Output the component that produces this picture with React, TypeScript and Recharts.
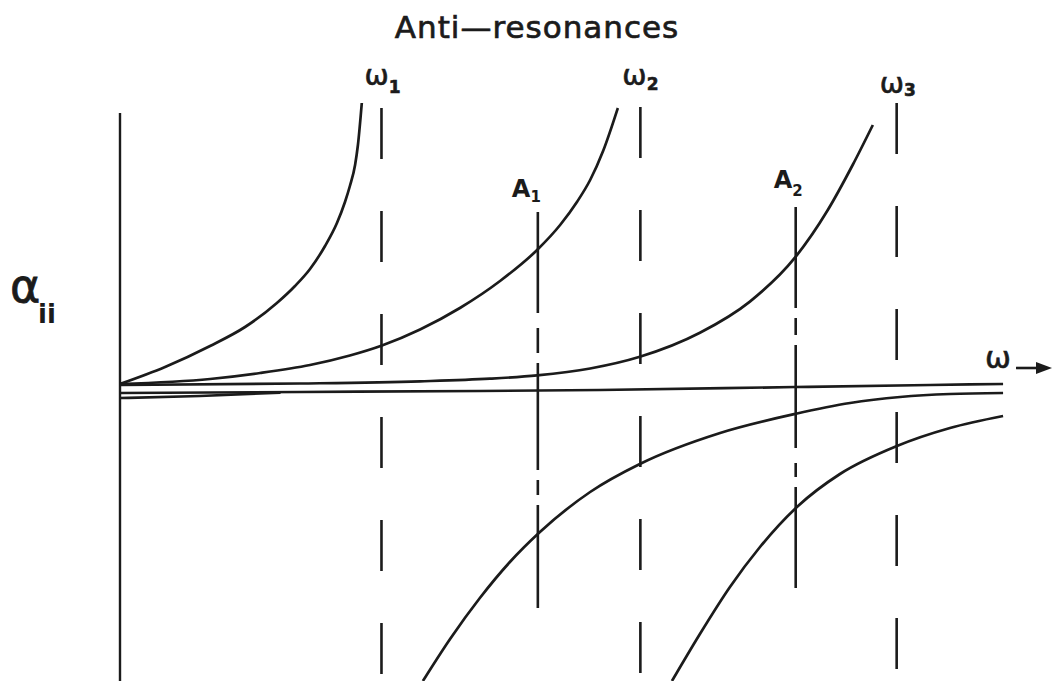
import { LineChart, Line, XAxis, YAxis, ReferenceLine } from "recharts";

type Pt = [number, number];

// ω in units of the first natural frequency, α_ii receptance (arbitrary units)
const mode1Below: Pt[] = [
  [0, 0.03], [0.174, 0.2], [0.348, 0.41], [0.483, 0.6], [0.606, 0.84],
  [0.676, 1.01], [0.734, 1.18], [0.792, 1.41], [0.838, 1.64], [0.869, 1.85],
  [0.888, 2.01], [0.908, 2.22], [0.919, 2.42], [0.934, 2.84],
];
const mode2Below: Pt[] = [
  [0, 0.03], [0.348, 0.08], [0.541, 0.14], [0.734, 0.22], [0.888, 0.315],
  [1.012, 0.415], [1.159, 0.575], [1.313, 0.79], [1.468, 1.06], [1.611, 1.37],
  [1.7, 1.62], [1.765, 1.85], [1.816, 2.07], [1.866, 2.36], [1.923, 2.79],
];
const mode3Below: Pt[] = [
  [0, 0.02], [0.695, 0.035], [1.159, 0.057], [1.429, 0.083], [1.611, 0.116],
  [1.816, 0.185], [2.008, 0.302], [2.24, 0.542], [2.433, 0.854], [2.607, 1.293],
  [2.731, 1.757], [2.831, 2.225], [2.908, 2.62],
];
const mode1Above: Pt[] = [
  [1.17, -2.94], [1.275, -2.52], [1.39, -2.11], [1.506, -1.75], [1.622, -1.45],
  [1.816, -1.05], [2.008, -0.77], [2.318, -0.46], [2.607, -0.27], [2.82, -0.16],
  [3.013, -0.1], [3.206, -0.07], [3.411, -0.06],
];
const mode2Above: Pt[] = [
  [2.132, -2.94], [2.24, -2.47], [2.356, -2.0], [2.472, -1.6], [2.619, -1.19],
  [2.781, -0.87], [3.001, -0.59], [3.206, -0.41], [3.411, -0.29],
];
const zeroLine: Pt[] = [
  [0, -0.06], [0.695, -0.05], [1.39, -0.04], [1.854, -0.03], [2.607, 0],
  [3.129, 0.02], [3.411, 0.03],
];
const zeroLineLow: Pt[] = [[0, -0.11], [0.309, -0.09], [0.62, -0.056]];

const resonances = [1.01, 2.01, 3.0];
const resonanceTop = [2.79, 2.8, 2.84];
const resonanceNames = ["1", "2", "3"];

const antiResonances = [1.614, 2.61];
const antiTop = [1.75, 1.8];
const antiBottom = [-2.21, -2.01];
const antiNames = ["1", "2"];

const axisTop = 2.74;

const W_DOMAIN: [number, number] = [0, 3.6];
const A_DOMAIN: [number, number] = [-2.94, 3];

const WIDTH = 1052;
const HEIGHT = 681;
const MARGIN = { top: 87, right: 0, bottom: 0, left: 120 };

const INK = "#1b1b1b";
const FONT = "'DejaVu Sans', sans-serif";

// label placement next to the top of each vertical line
const omegaOffsets = [
  { dx: -17, dy: -23, sub: 8 },
  { dx: -18, dy: -22, sub: 5 },
  { dx: -17, dy: -10, sub: 3 },
];
const antiOffsets = [
  { dx: -26, dy: -15, sub: 5 },
  { dx: -22, dy: -19, sub: 8 },
];
const antiDashes = ["101 15 25 10 107 10 15 10 103", "101 10 17 10 103 15 14 10 101"];

const rows = (pts: Pt[]) => pts.map(([w, a]) => ({ w, a }));

// same linear mapping the chart uses, for the overlay text
const plotW = WIDTH - MARGIN.left - MARGIN.right;
const plotH = HEIGHT - MARGIN.top - MARGIN.bottom;
const xPx = (w: number) => MARGIN.left + ((w - W_DOMAIN[0]) / (W_DOMAIN[1] - W_DOMAIN[0])) * plotW;
const yPx = (a: number) => MARGIN.top + ((A_DOMAIN[1] - a) / (A_DOMAIN[1] - A_DOMAIN[0])) * plotH;

const curves = [mode1Below, mode2Below, mode3Below, mode1Above, mode2Above, zeroLine, zeroLineLow];

export default function App() {
  return (
    <div style={{ position: "relative", width: WIDTH, height: HEIGHT, background: "#fff" }}>
      <style>{"body{margin:0;background:#fff}"}</style>
      <LineChart width={WIDTH} height={HEIGHT} margin={MARGIN}>
        <XAxis type="number" dataKey="w" domain={W_DOMAIN} allowDataOverflow hide />
        <YAxis type="number" dataKey="a" domain={A_DOMAIN} allowDataOverflow hide />

        <ReferenceLine
          segment={[{ x: 0, y: axisTop }, { x: 0, y: A_DOMAIN[0] }]}
          stroke={INK}
          strokeWidth={2.4}
          ifOverflow="visible"
        />

        {resonances.map((w, i) => (
          <ReferenceLine
            key={`res-${i}`}
            segment={[{ x: w, y: resonanceTop[i] }, { x: w, y: A_DOMAIN[0] }]}
            stroke={INK}
            strokeWidth={2.6}
            strokeDasharray="51 52"
            ifOverflow="visible"
          />
        ))}

        {antiResonances.map((w, i) => (
          <ReferenceLine
            key={`anti-${i}`}
            segment={[{ x: w, y: antiTop[i] }, { x: w, y: antiBottom[i] }]}
            stroke={INK}
            strokeWidth={2.6}
            strokeDasharray={antiDashes[i]}
            ifOverflow="visible"
          />
        ))}

        {curves.map((pts, i) => (
          <Line
            key={`curve-${i}`}
            data={rows(pts)}
            dataKey="a"
            type="monotone"
            stroke={INK}
            strokeWidth={2.7}
            dot={false}
            activeDot={false}
            isAnimationActive={false}
          />
        ))}
      </LineChart>

      <svg
        width={WIDTH}
        height={HEIGHT}
        style={{ position: "absolute", left: 0, top: 0, pointerEvents: "none" }}
      >
        <text
          x={537}
          y={38}
          textAnchor="middle"
          fill={INK}
          stroke={INK}
          strokeWidth={0.7}
          fontFamily={FONT}
          fontSize={31}
          letterSpacing={1}
        >
          Anti—resonances
        </text>

        {resonances.map((w, i) => {
          const o = omegaOffsets[i];
          return (
            <text
              key={`wl-${i}`}
              x={xPx(w) + o.dx}
              y={yPx(resonanceTop[i]) + o.dy}
              fill={INK}
              stroke={INK}
              strokeWidth={0.6}
              fontFamily={FONT}
              fontSize={29}
            >
              ω
              <tspan fontSize={17} fontWeight="bold" dy={o.sub}>
                {resonanceNames[i]}
              </tspan>
            </text>
          );
        })}

        {antiResonances.map((w, i) => {
          const o = antiOffsets[i];
          return (
            <text
              key={`al-${i}`}
              x={xPx(w) + o.dx}
              y={yPx(antiTop[i]) + o.dy}
              fill={INK}
              fontFamily={FONT}
              fontWeight="bold"
              fontSize={24}
            >
              A
              <tspan fontSize={15} dy={o.sub}>
                {antiNames[i]}
              </tspan>
            </text>
          );
        })}

        <text x={10} y={302} fill={INK} stroke={INK} strokeWidth={0.8} fontFamily={FONT} fontSize={46}>
          α
        </text>
        <text x={38} y={323} fill={INK} fontFamily={FONT} fontSize={26} fontWeight="bold">
          ii
        </text>
        <text x={985} y={368} fill={INK} stroke={INK} strokeWidth={0.6} fontFamily={FONT} fontSize={31}>
          ω
        </text>
        <line x1={1016} y1={368} x2={1040} y2={368} stroke={INK} strokeWidth={2.6} />
        <polygon points="1036,362 1052,368 1036,374" fill={INK} />
      </svg>
    </div>
  );
}
